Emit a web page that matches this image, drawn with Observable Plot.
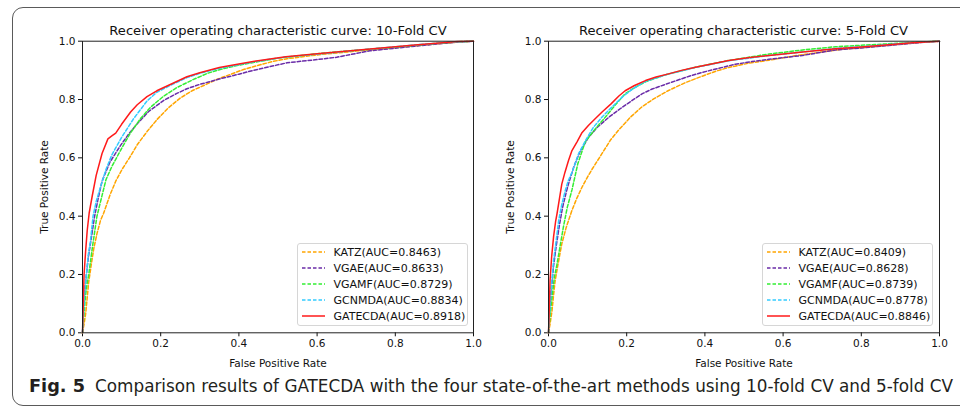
<!DOCTYPE html>
<html><head><meta charset="utf-8">
<script src="https://cdn.jsdelivr.net/npm/d3@7"></script>
<script src="https://cdn.jsdelivr.net/npm/@observablehq/plot@0.6"></script>
<style>
html,body{margin:0;padding:0;background:#fff;}
body{width:960px;height:407px;overflow:hidden;position:relative;font-family:"DejaVu Sans",sans-serif;}
#frame{position:absolute;left:12px;top:7px;width:1000px;height:399px;border:1.2px solid #5a5a5a;border-radius:11px;box-sizing:border-box;}
.chart{position:absolute;top:0;}
.legend{position:absolute;top:243px;width:171px;height:83px;border:1px solid #d6d6d6;border-radius:3px;background:rgba(255,255,255,0.85);box-sizing:border-box;font-size:11px;color:#111;}
.row{position:absolute;left:0;height:16px;display:flex;align-items:center;white-space:nowrap;}
.row svg{margin-left:3.5px;margin-right:9px;}
#overlay{position:absolute;left:0;top:0;}
</style>
</head><body>
<div id="frame"></div>
<div id="c10" class="chart" style="left:0px"></div>
<div id="c5" class="chart" style="left:466px"></div>
<svg id="overlay" width="960" height="407"></svg>
<script>
// ---- data ----
const methods = ["KATZ", "VGAE", "VGAMF", "GCNMDA", "GATECDA"];
const colors = ["#ffa500", "#6a2ca8", "#33ee33", "#33ccff", "#ff1a1a"];
const dashes = ["3.5,2", "3.5,2", "3.5,2", "3.5,2", null];
const auc10 = ["0.8463", "0.8633", "0.8729", "0.8834", "0.8918"];
const auc5 = ["0.8409", "0.8628", "0.8739", "0.8778", "0.8846"];
const titles = ["Receiver operating characteristic curve: 10-Fold CV", "Receiver operating characteristic curve: 5-Fold CV"];
const tickValues = [0, 0.2, 0.4, 0.6, 0.8, 1.0];
const xLabel = "False Positive Rate";
const yLabel = "True Positive Rate";
const captionBold = "Fig. 5";
const captionText = "Comparison results of GATECDA with the four state-of-the-art methods using 10-fold CV and 5-fold CV";

// 10-fold CV curves [fpr, tpr]
const katz10 = [[0,0],[0.004,0.03],[0.008,0.065],[0.012,0.12],[0.016,0.175],[0.022,0.23],[0.029,0.29],[0.037,0.34],[0.046,0.385],[0.054,0.41],[0.071,0.475],[0.085,0.52],[0.101,0.56],[0.12,0.6],[0.14,0.645],[0.165,0.69],[0.191,0.732],[0.22,0.772],[0.25,0.805],[0.28,0.83],[0.31,0.848],[0.345,0.87],[0.378,0.886],[0.41,0.902],[0.446,0.916],[0.485,0.93],[0.523,0.94],[0.6,0.953],[0.7,0.966],[0.8,0.978],[0.9,0.99],[0.96,0.997],[1,1]];
const vgae10 = [[0,0],[0.003,0.08],[0.006,0.14],[0.01,0.2],[0.015,0.26],[0.022,0.32],[0.031,0.4],[0.04,0.46],[0.05,0.52],[0.07,0.585],[0.097,0.642],[0.12,0.685],[0.14,0.717],[0.17,0.76],[0.208,0.797],[0.24,0.82],[0.267,0.837],[0.3,0.852],[0.352,0.871],[0.4,0.887],[0.437,0.9],[0.48,0.913],[0.523,0.926],[0.6,0.937],[0.65,0.945],[0.7,0.958],[0.735,0.967],[0.8,0.976],[0.85,0.983],[0.92,0.992],[0.97,0.998],[1,1]];
const vgamf10 = [[0,0],[0.004,0.07],[0.008,0.13],[0.012,0.17],[0.016,0.2],[0.025,0.29],[0.037,0.4],[0.048,0.46],[0.06,0.525],[0.075,0.57],[0.097,0.625],[0.12,0.68],[0.148,0.734],[0.175,0.775],[0.208,0.812],[0.24,0.84],[0.284,0.869],[0.32,0.89],[0.352,0.903],[0.4,0.918],[0.437,0.927],[0.5,0.942],[0.6,0.957],[0.7,0.969],[0.8,0.98],[0.9,0.992],[0.96,0.998],[1,1]];
const gcnmda10 = [[0,0],[0.003,0.08],[0.006,0.15],[0.01,0.2],[0.015,0.27],[0.02,0.31],[0.027,0.4],[0.035,0.45],[0.046,0.5],[0.06,0.56],[0.075,0.61],[0.1,0.67],[0.13,0.733],[0.165,0.795],[0.19,0.825],[0.23,0.852],[0.267,0.875],[0.3,0.89],[0.35,0.907],[0.44,0.93],[0.52,0.946],[0.65,0.962],[0.75,0.975],[0.85,0.987],[0.93,0.996],[1,1]];
const gatecda10 = [[0,0],[0.002,0.1],[0.004,0.2],[0.008,0.28],[0.012,0.35],[0.017,0.41],[0.025,0.47],[0.035,0.54],[0.05,0.615],[0.065,0.665],[0.075,0.675],[0.085,0.685],[0.1,0.715],[0.123,0.757],[0.14,0.782],[0.165,0.81],[0.19,0.83],[0.23,0.855],[0.267,0.878],[0.3,0.892],[0.35,0.91],[0.4,0.922],[0.44,0.931],[0.52,0.947],[0.6,0.957],[0.65,0.963],[0.75,0.975],[0.85,0.987],[0.92,0.995],[0.96,0.999],[1,1]];

// 5-fold CV curves [fpr, tpr]
const katz5 = [[0,0],[0.004,0.03],[0.009,0.076],[0.013,0.13],[0.017,0.179],[0.025,0.24],[0.034,0.305],[0.045,0.36],[0.06,0.42],[0.072,0.46],[0.086,0.5],[0.1,0.535],[0.111,0.56],[0.137,0.615],[0.158,0.66],[0.179,0.695],[0.21,0.74],[0.239,0.775],[0.27,0.803],[0.307,0.831],[0.35,0.858],[0.393,0.88],[0.43,0.898],[0.461,0.91],[0.51,0.924],[0.564,0.935],[0.63,0.95],[0.692,0.962],[0.75,0.972],[0.82,0.98],[0.9,0.99],[0.96,0.997],[1,1]];
const vgae5 = [[0,0],[0.003,0.07],[0.007,0.14],[0.013,0.23],[0.02,0.3],[0.028,0.37],[0.036,0.43],[0.045,0.48],[0.051,0.51],[0.065,0.57],[0.08,0.62],[0.102,0.67],[0.125,0.705],[0.154,0.739],[0.185,0.77],[0.214,0.797],[0.24,0.82],[0.265,0.836],[0.295,0.85],[0.325,0.864],[0.36,0.88],[0.393,0.893],[0.435,0.907],[0.478,0.921],[0.52,0.93],[0.564,0.938],[0.649,0.951],[0.734,0.97],[0.8,0.977],[0.87,0.985],[0.93,0.993],[1,1]];
const vgamf5 = [[0,0],[0.004,0.06],[0.009,0.12],[0.015,0.19],[0.022,0.237],[0.03,0.3],[0.038,0.362],[0.048,0.43],[0.06,0.49],[0.075,0.58],[0.094,0.655],[0.12,0.7],[0.145,0.739],[0.17,0.78],[0.196,0.82],[0.222,0.842],[0.25,0.862],[0.3,0.885],[0.376,0.911],[0.461,0.934],[0.564,0.956],[0.65,0.97],[0.734,0.981],[0.8,0.986],[0.87,0.991],[0.93,0.996],[1,1]];
const gcnmda5 = [[0,0],[0.003,0.07],[0.007,0.15],[0.013,0.248],[0.02,0.32],[0.026,0.385],[0.034,0.44],[0.043,0.488],[0.05,0.52],[0.06,0.55],[0.077,0.614],[0.095,0.66],[0.115,0.705],[0.137,0.74],[0.162,0.774],[0.19,0.81],[0.214,0.835],[0.248,0.862],[0.3,0.885],[0.376,0.91],[0.461,0.933],[0.564,0.951],[0.65,0.963],[0.734,0.975],[0.8,0.981],[0.87,0.989],[0.93,0.995],[1,1]];
const gatecda5 = [[0,0],[0.002,0.08],[0.004,0.18],[0.008,0.26],[0.013,0.33],[0.018,0.38],[0.022,0.41],[0.028,0.46],[0.034,0.51],[0.042,0.55],[0.051,0.59],[0.06,0.625],[0.073,0.655],[0.085,0.685],[0.102,0.711],[0.12,0.735],[0.137,0.757],[0.16,0.785],[0.18,0.812],[0.196,0.83],[0.22,0.848],[0.248,0.865],[0.275,0.877],[0.307,0.888],[0.34,0.9],[0.376,0.911],[0.42,0.923],[0.461,0.934],[0.51,0.943],[0.564,0.951],[0.65,0.963],[0.734,0.974],[0.8,0.98],[0.87,0.988],[0.93,0.995],[1,1]];

const curves10 = [katz10, vgae10, vgamf10, gcnmda10, gatecda10];
const curves5 = [katz5, vgae5, vgamf5, gcnmda5, gatecda5];

// ---- drawing ----
const fmt = d3.format(".1f");
function roc(curves) {
  const lines = curves.map((pts, i) => Plot.line(pts, {
    x: d => d[0], y: d => d[1], stroke: colors[i], strokeWidth: 1.5,
    strokeDasharray: dashes[i] || undefined, curve: "linear"
  }));
  return Plot.plot({
    width: 480, height: 407,
    marginLeft: 82, marginRight: 7, marginTop: 40.7, marginBottom: 74.7,
    style: {fontFamily: "DejaVu Sans", fontSize: "10.5px", color: "#111", background: "transparent", overflow: "visible"},
    x: {domain: [0, 1]},
    y: {domain: [0, 1]},
    marks: [
      Plot.axisX({ticks: tickValues, tickFormat: fmt, tickSize: 4, tickPadding: 3, label: xLabel, labelAnchor: "center", labelArrow: "none", labelOffset: 34}),
      Plot.axisY({ticks: tickValues, tickFormat: fmt, tickSize: 4, tickPadding: 3, label: yLabel, labelAnchor: "center", labelArrow: "none", labelOffset: 42}),
      ...lines,
      Plot.frame({stroke: "#222", strokeWidth: 1})
    ]
  });
}
document.getElementById("c10").append(roc(curves10));
document.getElementById("c5").append(roc(curves5));

function legend(left, aucs) {
  const box = document.createElement("div");
  box.className = "legend";
  box.style.left = left + "px";
  methods.forEach((m, i) => {
    const row = document.createElement("div");
    row.className = "row";
    row.style.top = (i * 16.1) + "px";
    const s = d3.create("svg").attr("width", 23).attr("height", 6);
    s.append("line").attr("x1", 0).attr("x2", 23).attr("y1", 3).attr("y2", 3)
      .attr("stroke", colors[i]).attr("stroke-width", 1.5)
      .attr("stroke-dasharray", dashes[i] || null);
    row.append(s.node());
    const t = document.createElement("span");
    t.textContent = `${m}(AUC=${aucs[i]})`;
    row.append(t);
    box.append(row);
  });
  document.body.append(box);
}
legend(297, auc10);
legend(762, auc5);

const ov = d3.select("#overlay");
ov.append("text").attr("x", 278).attr("y", 34.5).attr("text-anchor", "middle")
  .attr("font-family", "DejaVu Sans").attr("font-size", 13.1).attr("fill", "#111").text(titles[0]);
ov.append("text").attr("x", 743.5).attr("y", 34.5).attr("text-anchor", "middle")
  .attr("font-family", "DejaVu Sans").attr("font-size", 13.1).attr("fill", "#111").text(titles[1]);
const capFont = "'DejaVu Sans Condensed', 'DejaVu Sans', sans-serif";
ov.append("text").attr("x", 29).attr("y", 392).attr("font-family", capFont).attr("font-weight", "bold")
  .attr("font-size", 18.5).attr("fill", "#231f20").attr("textLength", 56).attr("lengthAdjust", "spacingAndGlyphs").text(captionBold);
ov.append("text").attr("x", 95).attr("y", 392).attr("font-family", capFont)
  .attr("font-size", 17.6).attr("fill", "#231f20").attr("textLength", 858).attr("lengthAdjust", "spacingAndGlyphs").text(captionText);
</script>
</body></html>
